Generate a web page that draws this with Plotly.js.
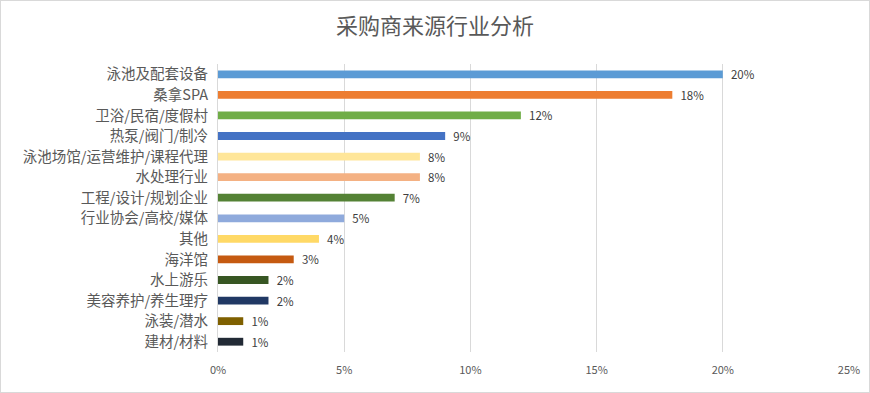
<!DOCTYPE html>
<html><head><meta charset="utf-8">
<script src="https://cdn.plot.ly/plotly-3.0.1.min.js"></script>
<style>
html,body{margin:0;padding:0;background:#fff;}
#chart{width:870px;height:393px;box-sizing:border-box;border:1px solid #d9d9d9;}
</style></head>
<body><div id="chart"></div>
<script>
const categories = ["泳池及配套设备","桑拿SPA","卫浴/民宿/度假村","热泵/阀门/制冷","泳池场馆/运营维护/课程代理","水处理行业","工程/设计/规划企业","行业协会/高校/媒体","其他","海洋馆","水上游乐","美容养护/养生理疗","泳装/潜水","建材/材料"];
const values = [20,18,12,9,8,8,7,5,4,3,2,2,1,1];
const barColors = ["#5B9BD5","#ED7D31","#70AD47","#4472C4","#FFE699","#F4B183","#548235","#8FAADC","#FFD966","#C55A11","#375623","#203864","#7F6000","#222A35"];
const xTicks = [0,5,10,15,20,25];

const font = '"Noto Sans CJK SC", "Noto Sans", sans-serif';
const trace = {
  type:'bar', orientation:'h',
  x: values, y: categories,
  marker:{color: barColors},
  width: 0.38,
  text: values.map(v => '  ' + v + '%'),
  textposition:'outside',
  constraintext:'none',
  textfont:{family:font, size:11.5, color:'#404040'},
  cliponaxis:false,
  hoverinfo:'none'
};
const layout = {
  width:868, height:391,
  margin:{l:217, r:20, t:63, b:40},
  paper_bgcolor:'#fff', plot_bgcolor:'#fff',
  showlegend:false,
  title:{text:'采购商来源行业分析', font:{family:font, size:22, color:'#595959'}, x:0.5, xanchor:'center', y:0.935, yanchor:'middle'},
  xaxis:{range:[0,25], tickvals:xTicks, ticktext:xTicks.map(v=>v+'%'), showgrid:true, gridcolor:'#d9d9d9', gridwidth:1,
    zeroline:false, showline:false, tickfont:{family:font, size:11, color:'#595959'}, ticks:'outside', ticklen:8, tickcolor:'rgba(0,0,0,0)', fixedrange:true},
  yaxis:{autorange:'reversed', showline:true, linecolor:'#d9d9d9', linewidth:1, ticks:'outside', ticklen:6, tickcolor:'rgba(0,0,0,0)',
    tickfont:{family:font, size:14.5, color:'#595959'}, fixedrange:true},
  bargap:0.6
};
Plotly.newPlot('chart',[trace],layout,{displayModeBar:false, staticPlot:true});
</script></body></html>
